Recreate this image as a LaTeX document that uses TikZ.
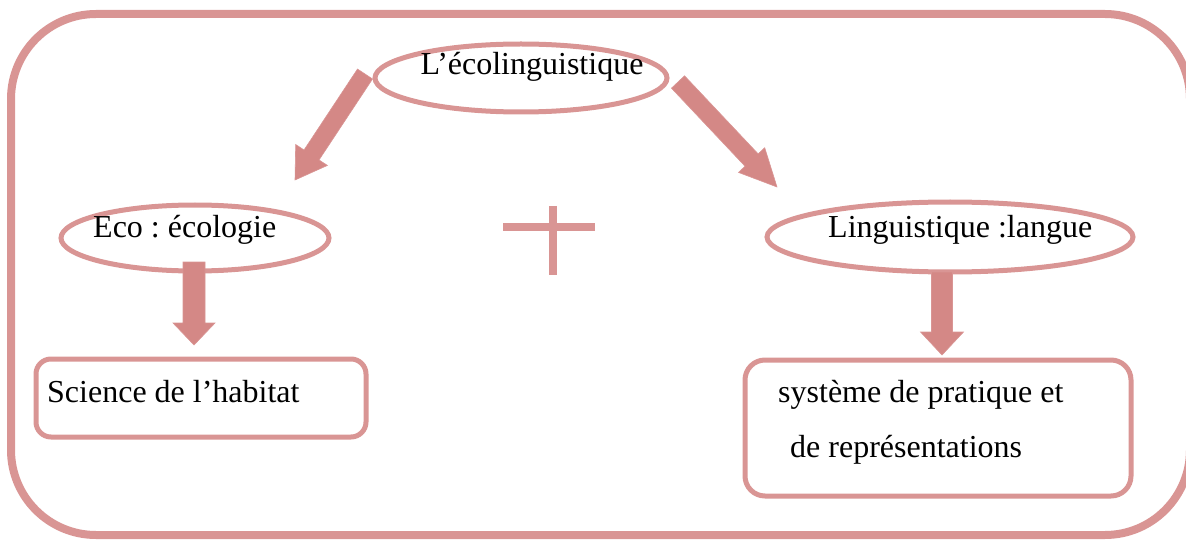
\documentclass[tikz,border=0pt]{standalone}
\usepackage{fontspec}
\setmainfont{Liberation Serif}
\usetikzlibrary{shapes.geometric,calc}
\definecolor{rosedge}{RGB}{217,149,148}
\definecolor{rosefill}{RGB}{212,136,134}
\frenchspacing

% block arrow: #1 name, #2 start, #3 tip, #4 shaft half width, #5 head half width, #6 head length
\newcommand{\blockarrow}[6]{%
  \coordinate (#1-b) at ($(#3)!#6!(#2)$);
  \fill[arrowbody]
    ($(#2)!#4!90:(#3)$) -- ($(#1-b)!#4!90:(#3)$) -- ($(#1-b)!#5!90:(#3)$) --
    (#3) -- ($(#1-b)!#5!-90:(#3)$) -- ($(#1-b)!#4!-90:(#3)$) --
    ($(#2)!#4!-90:(#3)$) -- cycle;
}

\tikzset{
  frame/.style={draw=rosedge, line width=8pt, rounded corners=85pt},
  oval/.style={ellipse, draw=rosedge, line width=5pt, inner sep=0pt},
  panel/.style={rectangle, draw=rosedge, line width=5pt, inner sep=0pt},
  word/.style={inner sep=0pt, font=\fontsize{32}{38}\selectfont},
  arrowbody/.style={fill=rosefill, draw=rosedge, line width=0.6pt},
  bar/.style={draw=rosedge, line width=8pt},
}

\begin{document}
\begin{tikzpicture}[x=1pt, y=-1pt]
  \useasboundingbox (0,0) rectangle (1186,540);

  % outer frame
  \draw[frame] (11,14) rectangle (1190,535);

  % ellipses
  \node[oval, minimum width=292pt, minimum height=68pt] (top) at (521,78) {};
  \node[oval, minimum width=268pt, minimum height=66pt] (eco) at (195,238) {};
  \node[oval, minimum width=366pt, minimum height=70pt] (ling) at (950,237) {};

  \node[word, anchor=base] (toptxt) at (532,75) {L’écolinguistique};
  \node[word, anchor=base west] (ecotxt) at (93,237) {Eco : écologie};
  \node[word, anchor=base west] (lingtxt) at (828,237) {Linguistique :langue};

  % rounded boxes
  \node[panel, rounded corners=15pt, minimum width=330pt, minimum height=78pt] (hab) at (201,398) {};
  \node[panel, rounded corners=20pt, minimum width=386pt, minimum height=136pt] (sys) at (938,428) {};

  \node[word, anchor=base west] (habtxt) at (47,402) {Science de l’habitat};
  \node[word, anchor=base west] (sys1) at (778,402) {système de pratique et};
  \node[word, anchor=base west] (sys2) at (790,457) {de représentations};

  % plus sign
  \coordinate (pl) at (503,227);
  \coordinate (pr) at (595,227);
  \coordinate (pt) at (553,206);
  \coordinate (pb) at (553,275);
  \draw[bar] (pl) -- (pr);
  \draw[bar] (pt) -- (pb);

  % block arrows
  \coordinate (a1s) at (365,74);
  \coordinate (a1t) at (295,180);
  \coordinate (a2s) at (678,82);
  \coordinate (a2t) at (777,187);
  \coordinate (a3s) at (194,262);
  \coordinate (a3t) at (194,345);
  \coordinate (a4s) at (942,272);
  \coordinate (a4t) at (942,355);
  \blockarrow{a1}{a1s}{a1t}{9pt}{19pt}{30pt}
  \blockarrow{a2}{a2s}{a2t}{9pt}{18pt}{37pt}
  \blockarrow{a3}{a3s}{a3t}{11pt}{21pt}{22pt}
  \blockarrow{a4}{a4s}{a4t}{10.5pt}{21.5pt}{23pt}
\end{tikzpicture}
\end{document}
